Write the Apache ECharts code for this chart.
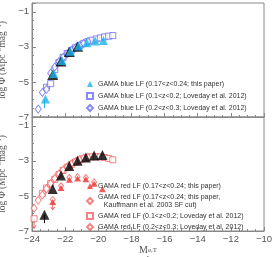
<!DOCTYPE html>
<html><head><meta charset="utf-8">
<script src="https://cdn.jsdelivr.net/npm/echarts@6/dist/echarts.min.js"></script>
<style>html,body{margin:0;padding:0;background:#fff}#c{width:275px;height:257px}</style>
</head><body><div id="c"></div>
<script>
// ---- data ----
var triX = [-23.25, -22.75, -22.25, -21.75, -21.25, -20.75, -20.25, -19.75];
var blueTriY = [-6.0, -4.55, -3.8, -3.28, -2.98, -2.79, -2.69, -2.66];
var allTriY = [-6.08, -4.6, -3.84, -3.3, -3.0, -2.81, -2.7, -2.66];
var blueSqX = [-23.125, -22.875, -22.625, -22.375, -22.125, -21.875, -21.625, -21.375, -21.125, -20.875, -20.625, -20.375, -20.125, -19.875, -19.625, -19.375, -19.125];
var blueSqY = [-5.3, -5.1, -4.3, -3.9, -3.6, -3.38, -3.2, -3.05, -2.92, -2.8, -2.7, -2.62, -2.55, -2.49, -2.43, -2.39, -2.36];
var blueDiX = [-23.625, -23.375, -23.125, -22.875, -22.625, -22.375, -22.125, -21.875, -21.625, -21.375, -21.125, -20.875, -20.625];
var blueDiY = [-6.55, -5.6, -5.42, -4.5, -4.15, -3.85, -3.6, -3.4, -3.2, -3.05, -2.92, -2.8, -2.7];
var redTriX = [-22.75, -22.25, -21.75, -21.25, -20.75, -20.25, -19.75];
var redTriY = [-5.35, -4.55, -4.08, -4.0, -4.05, -4.3, -4.62];
var kaufX = [-22.75, -22.25, -21.75, -21.25, -20.75, -20.25];
var kaufY = [-5.2, -4.42, -3.95, -3.9, -3.95, -4.2];
var redSqX = [-23.875, -23.375, -23.125, -22.875, -22.625, -22.375, -22.125, -21.875, -21.625, -21.375, -21.125, -20.875, -20.625, -20.375, -20.125, -19.875, -19.625, -19.375, -19.125];
var redSqY = [-6.3, -4.85, -4.55, -4.3, -4.05, -3.78, -3.55, -3.36, -3.2, -3.06, -2.95, -2.86, -2.8, -2.77, -2.76, -2.78, -2.81, -2.86, -2.94];
var redDiX = [-23.875, -23.625, -23.375, -23.125, -22.875, -22.625, -22.375, -22.125, -21.875, -21.625, -21.375, -21.125, -20.875, -20.625];
var redDiY = [-5.7, -5.25, -4.95, -4.6, -4.3, -4.0, -3.75, -3.52, -3.35, -3.18, -3.05, -2.93, -2.85, -2.8];
// error bars [x, low, high]
var blueErr = [[-23.25, -6.5, -6.0]];
var allErr = [[-23.25, -6.55, -6.08]];
var redErr = [[-22.75, -5.8, -5.35], [-23.875, -6.85, -6.3]];

var names = {
  bT: 'GAMA blue LF (0.17<z<0.24; this paper)',
  bS: 'GAMA blue LF (0.1<z<0.2; Loveday et al. 2012)',
  bD: 'GAMA blue LF (0.2<z<0.3; Loveday et al. 2012)',
  rT: 'GAMA red LF (0.17<z<0.24; this paper)',
  rK: 'GAMA red LF (0.17<z<0.24; this paper,\n   Kauffmann et al. 2003 SF cut)',
  rS: 'GAMA red LF (0.1<z<0.2; Loveday et al. 2012)',
  rD: 'GAMA red LF (0.2<z<0.3; Loveday et al. 2012)'
};
function zip(xs, ys){ return xs.map(function(x,i){return [x, ys[i]];}); }
function fmt(v){ return String(v).replace('-', '\u2212'); }

var chart = echarts.init(document.getElementById('c'), null, {renderer:'canvas'});
var axisGray = '#888';
function xAxis(idx, showLabel){
  return {
    type:'value', gridIndex: idx, min:-24, max:-10, interval:2,
    axisLine:{show:true, lineStyle:{color:axisGray}},
    axisTick:{show:true, inside:true, length:4, lineStyle:{color:axisGray}},
    minorTick:{show:true, splitNumber:4, length:2, lineStyle:{color:axisGray}},
    splitLine:{show:false},
    axisLabel:{show:showLabel, margin:3, color:'#555', fontSize:9.5, fontFamily:'Liberation Sans', formatter: fmt},
    name: showLabel ? 'M{sup|e,T}\n{sub|r}' : '',
    nameLocation:'middle', nameGap: 9,
    nameTextStyle:{fontFamily:'Liberation Serif', fontSize:10, color:'#555', lineHeight:7,
      rich:{sup:{fontSize:7, verticalAlign:'top', fontFamily:'Liberation Serif', color:'#555', padding:[0,0,6,0]}, sub:{fontSize:7, fontFamily:'Liberation Serif', color:'#555'}}}
  };
}
function yAxis(idx){
  return {
    type:'value', gridIndex: idx, min:-7, max:-0.5, interval:2,
    axisLine:{show:true, lineStyle:{color:axisGray}},
    axisTick:{show:true, inside:true, length:4, lineStyle:{color:axisGray}},
    minorTick:{show:true, splitNumber:4, length:2, lineStyle:{color:axisGray}},
    splitLine:{show:false},
    axisLabel:{show:true, margin:3, color:'#555', fontSize:9.5, fontFamily:'Liberation Sans', formatter: fmt,
      showMinLabel:true, showMaxLabel:false},
    name:'log \u03A6 (Mpc{sup|\u22123}mag{sup|\u22121})',
    nameLocation:'middle', nameGap:19, nameRotate:90,
    nameTextStyle:{fontFamily:'Liberation Serif', fontSize:9.5, color:'#555',
      rich:{sup:{fontSize:6.5, fontFamily:'Liberation Serif', color:'#555', padding:[0,0,6,0]}}}
  };
}
function errSeries(idx, data, color, arrow){
  return {
    type:'custom', xAxisIndex:idx, yAxisIndex:idx, data:data, z:1, silent:true,
    renderItem:function(params, api){
      var p1 = api.coord([api.value(0), api.value(1)]);
      var p2 = api.coord([api.value(0), api.value(2)]);
      var children = [{type:'line', shape:{x1:p1[0], y1:p1[1], x2:p2[0], y2:p2[1]}, style:{stroke:color, lineWidth:1}}];
      if (arrow) children.push({type:'polyline', shape:{points:[[p1[0]-2,p1[1]-3],[p1[0],p1[1]],[p1[0]+2,p1[1]-3]]}, style:{stroke:color, fill:null, lineWidth:1}});
      return {type:'group', children:children};
    }
  };
}
var openBlue = '#6b6bf2', cyan = '#1bb3e8', openRed = '#f26464', redFill = '#f03232';
var legendText = {fontSize:7, color:'#333', fontFamily:'Liberation Sans', lineHeight:8};
var gridBase = {left:32, right:11, height:114, show:true, borderColor:axisGray, borderWidth:1, backgroundColor:'#fff', containLabel:false, outerBoundsMode:'none'};
var option = {
  animation:false,
  grid:[
    Object.assign({top:3}, gridBase),
    Object.assign({top:117}, gridBase)
  ],
  xAxis:[xAxis(0,false), xAxis(1,true)],
  yAxis:[yAxis(0), yAxis(1)],
  legend:[
    {orient:'vertical', left:86, top:80, itemWidth:6, itemHeight:6, itemGap:4, textStyle:legendText, padding:0,
      data:[names.bT, names.bS, names.bD]},
    {orient:'vertical', left:86, top:182, itemWidth:6, itemHeight:6, itemGap:3, textStyle:legendText, padding:0,
      data:[names.rT, names.rK, names.rS, names.rD]}
  ],
  series:[
    errSeries(0, blueErr, cyan, false),
    {name:names.bS, type:'scatter', xAxisIndex:0, yAxisIndex:0, symbol:'rect', symbolSize:6,
      itemStyle:{color:'#fff', borderColor:openBlue, borderWidth:1}, data:zip(blueSqX, blueSqY), z:2},
    {name:names.bD, type:'scatter', xAxisIndex:0, yAxisIndex:0, symbol:'diamond', symbolSize:[6,8],
      itemStyle:{color:'#fff', borderColor:openBlue, borderWidth:1}, data:zip(blueDiX, blueDiY), z:2},
    {name:'all', type:'scatter', xAxisIndex:0, yAxisIndex:0, symbol:'triangle', symbolSize:[11,10],
      itemStyle:{color:'#000'}, data:zip(triX.slice(1,5), allTriY.slice(1,5)), z:3},
    {name:names.bT, type:'scatter', xAxisIndex:0, yAxisIndex:0, symbol:'triangle', symbolSize:[9,9], symbolOffset:[1,-0.5],
      itemStyle:{color:cyan}, data:zip(triX, blueTriY), z:4},

    errSeries(1, allErr, '#000', false),
    errSeries(1, redErr, openRed, true),
    {name:names.rS, type:'scatter', xAxisIndex:1, yAxisIndex:1, symbol:'rect', symbolSize:6,
      itemStyle:{color:'#fff', borderColor:openRed, borderWidth:1}, data:zip(redSqX, redSqY), z:2},
    {name:names.rD, type:'scatter', xAxisIndex:1, yAxisIndex:1, symbol:'diamond', symbolSize:[6,8],
      itemStyle:{color:'#fff', borderColor:openRed, borderWidth:1}, data:zip(redDiX, redDiY), z:2},
    {name:names.rK, type:'scatter', xAxisIndex:1, yAxisIndex:1, symbol:'diamond', symbolSize:[5,6],
      itemStyle:{color:'#fff', borderColor:openRed, borderWidth:1}, data:zip(kaufX, kaufY), z:3},
    {name:names.rT, type:'scatter', xAxisIndex:1, yAxisIndex:1, symbol:'triangle', symbolSize:[7,6],
      itemStyle:{color:redFill}, data:zip(redTriX, redTriY), z:3},
    {name:'all2', type:'scatter', xAxisIndex:1, yAxisIndex:1, symbol:'triangle', symbolSize:[10,10],
      itemStyle:{color:'#000'}, data:zip(triX, allTriY), z:4}
  ]
};
chart.setOption(option);
</script></body></html>
